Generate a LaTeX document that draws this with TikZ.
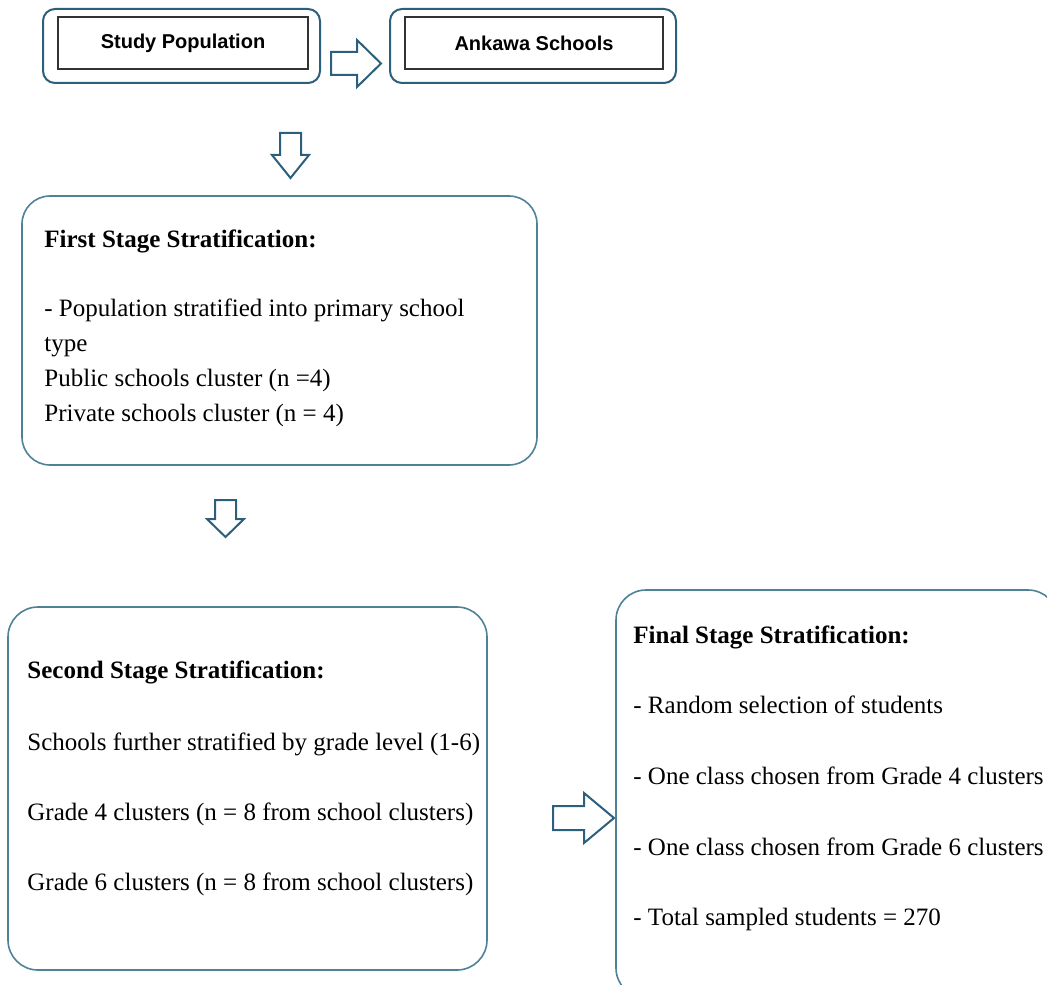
\documentclass[tikz,border=0pt]{standalone}
\usepackage{fontspec}
\setmainfont{Liberation Serif}
\newfontfamily\topfont{Liberation Sans}
\usepackage{tikz}
\usetikzlibrary{calc}
\definecolor{outline}{HTML}{2C5F7C}
\definecolor{boxline}{HTML}{4F8197}

\begin{document}
\begin{tikzpicture}[x=0.5pt,y=-0.5pt,
	outer/.style={draw=outline, line width=1pt, rounded corners=6pt, minimum width=#1, minimum height=37pt, inner sep=0pt},
	inner/.style={draw=black!80, line width=0.7pt, minimum height=26pt, minimum width=#1, inner sep=0pt, font=\topfont\bfseries\fontsize{10}{12}\selectfont},
	stage/.style={draw=boxline, line width=0.8pt, rounded corners=14pt, inner sep=0pt},
	blockarrow/.style={draw=outline, line width=1pt, line join=miter},
	txt/.style={anchor=base west, inner sep=0pt, font=\fontsize{12.5}{15}\selectfont}
	]
	\clip (0,0) rectangle (1047,984);
	\useasboundingbox (0,0) rectangle (1047,984);
	% top row
	\node[outer=138.5pt] (popbox) at (181.5,46) {};
	\node[inner=125pt] (pop) at (183,43) {Study Population};
	\node[outer=143pt] (ankbox) at (533,46) {};
	\node[inner=129pt] (ank) at (534,43) {Ankawa Schools};
	\coordinate (a1) at (331,52);
	\draw[blockarrow] (a1) -- ++(26,0) -- ++(0,-12) -- ++(24,23.5) -- ++(-24,23.5) -- ++(0,-12) -- ++(-26,0) -- cycle;
	\coordinate (a2) at (280,133);
	\draw[blockarrow] (a2) -- ++(0,22) -- ++(-8,0) -- ++(18.5,23) -- ++(18.5,-23) -- ++(-8,0) -- ++(0,-22) -- cycle;
	% stage boxes
	\node[stage, minimum width=257.5pt, minimum height=134.5pt] (first) at (279.5,330.5) {};
	\node[txt] (f0) at (44,247) {\bfseries First Stage Stratification:};
	\node[txt] (f1) at (44,316) {- Population stratified into primary school};
	\node[txt] (f2) at (44,351) {type};
	\node[txt] (f3) at (44,386) {Public schools cluster (n =4)};
	\node[txt] (f4) at (44,421) {Private schools cluster (n = 4)};
	\coordinate (a3) at (215,500);
	\draw[blockarrow] (a3) -- ++(0,19) -- ++(-8,0) -- ++(18.5,18) -- ++(18.5,-18) -- ++(-8,0) -- ++(0,-19) -- cycle;
	\node[stage, rounded corners=15pt, minimum width=239.5pt, minimum height=181.5pt] (second) at (247.5,788.5) {};
	\node[txt] (s0) at (27,678) {\bfseries Second Stage Stratification:};
	\node[txt] (s1) at (27,750) {Schools further stratified by grade level (1-6)};
	\node[txt] (s2) at (27,820) {Grade 4 clusters (n = 8 from school clusters)};
	\node[txt] (s3) at (27,890) {Grade 6 clusters (n = 8 from school clusters)};
	\coordinate (a4) at (553,806);
	\draw[blockarrow] (a4) -- ++(31,0) -- ++(0,-13) -- ++(30,25) -- ++(-30,25) -- ++(0,-13) -- ++(-31,0) -- cycle;
	\node[stage, rounded corners=15pt, minimum width=221pt, minimum height=204pt] (final) at (837,794) {};
	\node[txt] (l0) at (633,643) {\bfseries Final Stage Stratification:};
	\node[txt] (l1) at (633,713) {- Random selection of students};
	\node[txt] (l2) at (633,784) {- One class chosen from Grade 4 clusters};
	\node[txt] (l3) at (633,855) {- One class chosen from Grade 6 clusters};
	\node[txt] (l4) at (633,925) {- Total sampled students = 270};
\end{tikzpicture}
\end{document}
